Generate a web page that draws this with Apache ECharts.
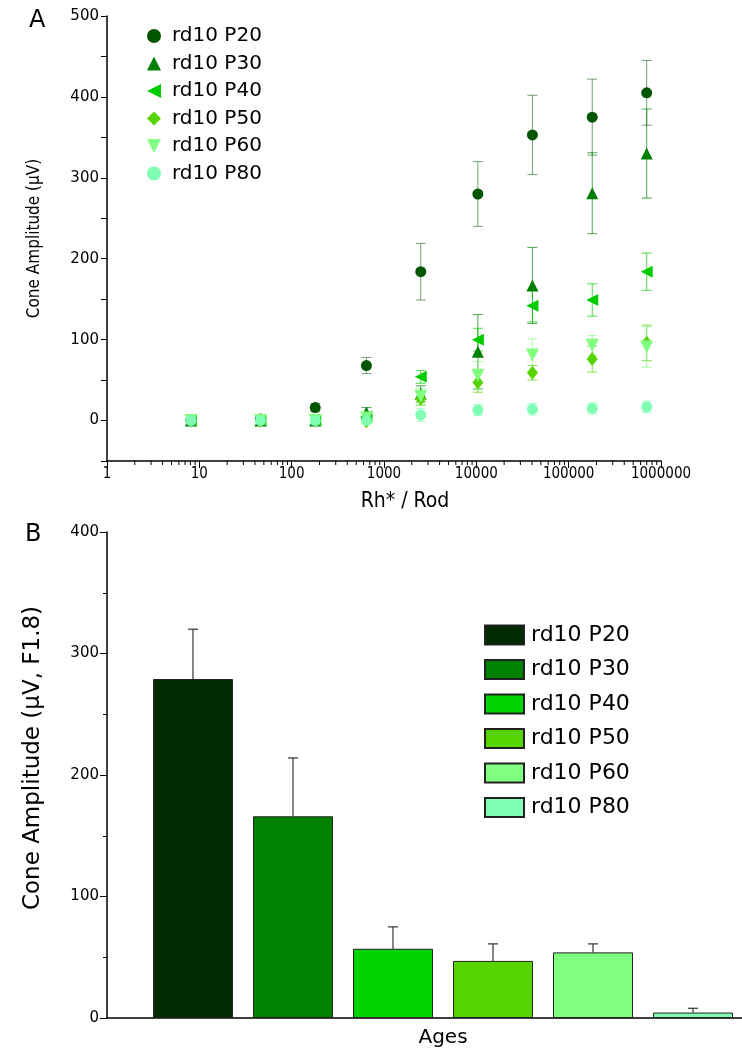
<!DOCTYPE html>
<html>
<head>
<meta charset="utf-8">
<script src="https://cdn.jsdelivr.net/npm/echarts@6/dist/echarts.min.js"></script>
<style>
html, body { margin: 0; padding: 0; background: #fff; }
#chart { width: 742px; height: 1054px; }
</style>
</head>
<body>
<div id="chart"></div>
<script>
// ages (series names)
var ages = ['rd10 P20', 'rd10 P30', 'rd10 P40', 'rd10 P50', 'rd10 P60', 'rd10 P80'];

// panel A: flash strength (Rh*/rod) and cone amplitude (uV) per age
var rhPerRod = [8.1, 46, 180, 645, 2500, 10400, 40500, 180000, 700000];
var ampP20 = [0, 2, 16, 68, 184, 280, 353, 375, 405];
var errP20 = [1, 2, 5, 10, 35, 40, 49, 47, 40];
var ampP30 = [0, 0, 0, 10, 33, 85, 167, 281, 330];
var errP30 = [0, 0, 0, 6, 10, 46, 47, 50, 55];
var ampP40 = [0, 0, 0, 5, 54, 100, 142, 149, 184];
var errP40 = [0, 0, 0, 4, 8, 14, 20, 20, 23];
var ampP50 = [0, 0, 0, -1, 27, 47, 59, 76, 96];
var errP50 = [0, 0, 0, 3, 8, 12, 9, 16, 22];
var ampP60 = [0, 0, 0, 3, 30, 56, 81, 93, 91];
var errP60 = [0, 0, 0, 3, 10, 17, 20, 12, 25];
var ampP80 = [0, 0, 0, 0, 7, 13, 14, 15, 17];
var errP80 = [0, 0, 0, 2, 8, 7, 7, 7, 7];

// panel B: amplitude at F1.8 per age
var barMeans = [279, 166, 57, 47, 54, 4.5];
var barErrs = [41, 48, 18, 14, 7, 3.5];

// log axis tick values
var xMajorTicks = [1, 10, 100, 1000, 10000, 100000, 1000000];

var ampA = [ampP20, ampP30, ampP40, ampP50, ampP60, ampP80];
var errA = [errP20, errP30, errP40, errP50, errP60, errP80];

var markerColors = ['#005500', '#008000', '#00cc00', '#55d400', '#80ff80', '#80ffb3'];
var barColors = ['#002b00', '#008000', '#00d400', '#55d400', '#80ff80', '#80ffb3'];
var markerShapes = ['circle', 'triangle', 'path://M10,0 L10,10 L0,5 Z', 'diamond', 'path://M0,0 L10,0 L5,10 Z', 'circle'];
var markerSizes = [11, 12, 12, [11, 14], 13, 11];

var condensed = '"DejaVu Sans Condensed", "DejaVu Sans", sans-serif';
var sans = '"DejaVu Sans", sans-serif';

// minor ticks for the log axis (2..9 in each decade)
var xMinorTicks = [];
xMajorTicks.slice(0, -1).forEach(function (d) {
    for (var k = 2; k <= 9; k++) xMinorTicks.push(d * k);
});

function hexAlpha(hex, a) {
    var r = parseInt(hex.substr(1, 2), 16), g = parseInt(hex.substr(3, 2), 16), b = parseInt(hex.substr(5, 2), 16);
    return 'rgba(' + r + ',' + g + ',' + b + ',' + a + ')';
}

function errorBars(color, capHalf) {
    return function (params, api) {
        var x = api.value(0);
        if (api.value(2) === api.value(1)) return;
        var lo = api.coord([x, api.value(1)]);
        var hi = api.coord([x, api.value(2)]);
        var style = { stroke: color, lineWidth: 1 };
        return {
            type: 'group', children: [
                { type: 'line', shape: { x1: lo[0], y1: lo[1], x2: hi[0], y2: hi[1] }, style: style },
                { type: 'line', shape: { x1: hi[0] - capHalf, y1: hi[1], x2: hi[0] + capHalf, y2: hi[1] }, style: style },
                { type: 'line', shape: { x1: lo[0] - capHalf, y1: lo[1], x2: lo[0] + capHalf, y2: lo[1] }, style: style }
            ]
        };
    };
}

var series = [];

// panel A error bars
ages.forEach(function (name, s) {
    series.push({
        name: 'err ' + name,
        type: 'custom',
        xAxisIndex: 0,
        yAxisIndex: 0,
        silent: true,
        z: 1,
        renderItem: errorBars(hexAlpha(markerColors[s], s === 0 ? 0.55 : 0.7), 5),
        encode: { x: 0, y: [1, 2] },
        data: rhPerRod.map(function (x, i) {
            return [x, ampA[s][i] - errA[s][i], ampA[s][i] + errA[s][i]];
        })
    });
});

// panel A points
ages.forEach(function (name, s) {
    series.push({
        name: name,
        type: 'scatter',
        xAxisIndex: 0,
        yAxisIndex: 0,
        z: 2,
        symbol: markerShapes[s],
        symbolSize: markerSizes[s],
        itemStyle: { color: markerColors[s], opacity: 1 },
        data: rhPerRod.map(function (x, i) { return [x, ampA[s][i]]; })
    });
});

// minor ticks on the log axis
series.push({
    type: 'custom',
    xAxisIndex: 0,
    yAxisIndex: 0,
    silent: true,
    clip: false,
    encode: { x: 0, y: 1 },
    data: xMinorTicks.map(function (v) { return [v, -50]; }),
    renderItem: function (params, api) {
        var p = api.coord([api.value(0), api.value(1)]);
        return {
            type: 'line',
            shape: { x1: p[0], y1: p[1], x2: p[0], y2: p[1] + 4 },
            style: { stroke: '#000', lineWidth: 1 }
        };
    }
});

// panel B bars
ages.forEach(function (name, s) {
    series.push({
        name: name + ' ',
        type: 'bar',
        xAxisIndex: 1,
        yAxisIndex: 1,
        barWidth: 80,
        barGap: '25%',
        itemStyle: { color: barColors[s], borderColor: '#222', borderWidth: 1 },
        data: [barMeans[s]]
    });
});

// panel B error bars (upper only)
series.push({
    type: 'custom',
    xAxisIndex: 1,
    yAxisIndex: 1,
    silent: true,
    z: 3,
    encode: { x: 0, y: [1, 2] },
    data: barMeans.map(function (m, s) { return [s, m, m + barErrs[s]]; }),
    renderItem: function (params, api) {
        var s = api.value(0);
        var base = api.coord(['Ages', api.value(1)]);
        var top = api.coord(['Ages', api.value(2)]);
        var cx = base[0] + (s - 2.5) * 100;
        var style = { stroke: '#333', lineWidth: 1.2 };
        return {
            type: 'group', children: [
                { type: 'line', shape: { x1: cx, y1: base[1], x2: cx, y2: top[1] }, style: style },
                { type: 'line', shape: { x1: cx - 5, y1: top[1], x2: cx + 5, y2: top[1] }, style: style }
            ]
        };
    }
});

var chart = echarts.init(document.getElementById('chart'));

var option = {
    animation: false,
    backgroundColor: '#fff',
    title: [
        { text: 'A', left: 24, top: 4, textStyle: { fontFamily: sans, fontSize: 24, fontWeight: 'normal', color: '#000' } },
        { text: 'B', left: 20, top: 518, textStyle: { fontFamily: sans, fontSize: 24, fontWeight: 'normal', color: '#000' } }
    ],
    legend: [
        {
            data: ages,
            orient: 'vertical',
            left: 147,
            top: 26,
            padding: 0,
            itemWidth: 14,
            itemHeight: 14,
            itemGap: 7.5,
            textStyle: { fontFamily: sans, fontSize: 20, lineHeight: 20, color: '#000', padding: [0, 0, 0, 6] }
        },
        {
            data: ages.map(function (a) { return a + ' '; }),
            orient: 'vertical',
            left: 484,
            top: 624,
            padding: 0,
            icon: 'rect',
            itemWidth: 39,
            itemHeight: 19,
            itemGap: 12.5,
            textStyle: { fontFamily: sans, fontSize: 22, lineHeight: 22, color: '#000', padding: [0, 0, 0, 2] }
        }
    ],
    grid: [
        { left: 107, right: 81, top: 16, bottom: 593, outerBoundsMode: 'none' },
        { left: 107, right: -37, top: 532, bottom: 36, outerBoundsMode: 'none' }
    ],
    xAxis: [
        {
            gridIndex: 0,
            type: 'log',
            logBase: 10,
            min: 1,
            max: 1000000,
            name: 'Rh* / Rod',
            nameLocation: 'middle',
            nameGap: 30,
            nameTextStyle: { fontFamily: condensed, fontSize: 21, color: '#000', padding: [0, 0, 0, 42] },
            axisLine: { onZero: false, lineStyle: { color: '#000', width: 1.5 } },
            axisTick: { length: 7, lineStyle: { color: '#000' } },
            axisLabel: {
                fontFamily: condensed, fontSize: 15, color: '#000', margin: 6,
                formatter: function (v) { return String(v); }
            },
            splitLine: { show: false }
        },
        {
            gridIndex: 1,
            type: 'category',
            data: ['Ages'],
            axisLine: { lineStyle: { color: '#000', width: 1.5 } },
            axisTick: { show: false },
            axisLabel: { fontFamily: sans, fontSize: 20, color: '#000', margin: 10 },
            splitLine: { show: false }
        }
    ],
    yAxis: [
        {
            gridIndex: 0,
            type: 'value',
            min: -50,
            max: 500,
            interval: 50,
            name: 'Cone Amplitude (\u03bcV)',
            nameLocation: 'middle',
            nameGap: 64,
            nameTextStyle: { fontFamily: condensed, fontSize: 17, color: '#000' },
            axisLine: { show: true, onZero: false, lineStyle: { color: '#000', width: 1.5 } },
            axisTick: { show: true, length: 6, lineStyle: { color: '#000' } },
            axisLabel: {
                fontFamily: sans, fontSize: 15, color: '#000', margin: 8,
                formatter: function (v) { return v % 100 === 0 ? String(v) : ''; }
            },
            splitLine: { show: false }
        },
        {
            gridIndex: 1,
            type: 'value',
            min: 0,
            max: 400,
            interval: 100,
            name: 'Cone Amplitude (\u03bcV, F1.8)',
            nameLocation: 'middle',
            nameGap: 62,
            nameTextStyle: { fontFamily: sans, fontSize: 23, color: '#000', padding: [0, 0, 0, 34] },
            axisLine: { show: true, lineStyle: { color: '#000', width: 1.5 } },
            axisTick: { show: true, length: 7, lineStyle: { color: '#000' } },
            minorTick: { show: true, splitNumber: 2, length: 4, lineStyle: { color: '#000' } },
            axisLabel: { fontFamily: sans, fontSize: 15, color: '#000', margin: 8 },
            splitLine: { show: false }
        }
    ],
    series: series
};

chart.setOption(option);
</script>
</body>
</html>
